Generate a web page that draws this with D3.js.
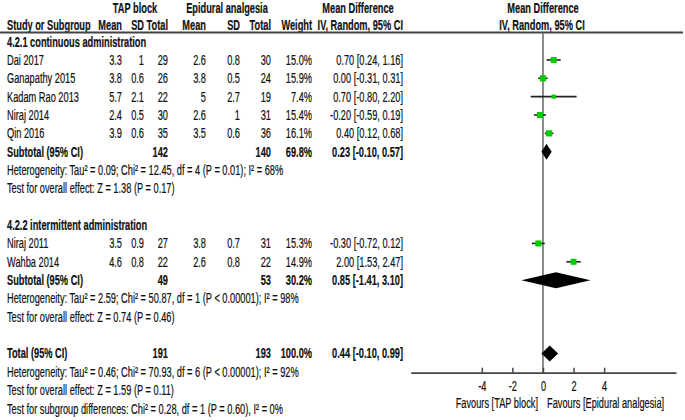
<!DOCTYPE html>
<html>
<head>
<meta charset="utf-8">
<script src="https://cdn.jsdelivr.net/npm/d3@7"></script>
<style>
  body { margin: 0; background: #fff; }
  svg text { font-family: "Liberation Sans", Arial, sans-serif; font-size: 14px; fill: #111; stroke: #111; stroke-width: 0.2px; }
</style>
</head>
<body>
<svg id="forest" width="685" height="420"></svg>
<script>
// ---- data ----
const subgroups = ["4.2.1 continuous administration", "4.2.2 intermittent administration"];
const studies   = ["Dai 2017", "Ganapathy 2015", "Kadam Rao 2013", "Niraj 2014", "Qin 2016", "Niraj 2011", "Wahba 2014"];
const groupOf   = [0, 0, 0, 0, 0, 1, 1];
const tapMean   = [3.3, 3.8, 5.7, 2.4, 3.9, 3.5, 4.6];
const tapSD     = [1, 0.6, 2.1, 0.5, 0.6, 0.9, 0.8];
const tapN      = [29, 26, 22, 30, 35, 27, 22];
const epiMean   = [2.6, 3.8, 5, 2.6, 3.5, 3.8, 2.6];
const epiSD     = [0.8, 0.5, 2.7, 1, 0.6, 0.7, 0.8];
const epiN      = [30, 24, 19, 31, 36, 31, 22];
const weight    = [15.0, 15.9, 7.4, 15.4, 16.1, 15.3, 14.9];
const md        = [0.70, 0.00, 0.70, -0.20, 0.40, -0.30, 2.00];
const mdLo      = [0.24, -0.31, -0.80, -0.59, 0.12, -0.72, 1.53];
const mdHi      = [1.16, 0.31, 2.20, 0.19, 0.68, 0.12, 2.47];

const subTapN   = [142, 49];
const subEpiN   = [140, 53];
const subWeight = [69.8, 30.2];
const subMd     = [0.23, 0.85];
const subLo     = [-0.10, -1.41];
const subHi     = [0.57, 3.10];
const subHet    = ["Heterogeneity: Tau² = 0.09; Chi² = 12.45, df = 4 (P = 0.01); I² = 68%",
                   "Heterogeneity: Tau² = 2.59; Chi² = 50.87, df = 1 (P < 0.00001); I² = 98%"];
const subTest   = ["Test for overall effect: Z = 1.38 (P = 0.17)",
                   "Test for overall effect: Z = 0.74 (P = 0.46)"];

const totTapN = 191, totEpiN = 193, totWeight = 100.0;
const totMd = 0.44, totLo = -0.10, totHi = 0.99;
const totHet  = "Heterogeneity: Tau² = 0.46; Chi² = 70.93, df = 6 (P < 0.00001); I² = 92%";
const totTest = "Test for overall effect: Z = 1.59 (P = 0.11)";
const subDiff = "Test for subgroup differences: Chi² = 0.28, df = 1 (P = 0.60), I² = 0%";

const axisTicks = [-4, -2, 0, 2, 4];
const favours = ["Favours [TAP block]", "Favours [Epidural analgesia]"];

// ---- layout ----
const SX = 0.66;               // horizontal squeeze of the narrow font
const rowY = i => 41.6 + 18.35 * i;
const col = { study: 7, tMean: 122, tSD: 144, tN: 168, eMean: 206, eSD: 240, eN: 271, w: 312, ci: 403 };

const svg = d3.select("#forest");
const x = d3.scaleLinear().domain([-8.65, 8.7]).range([410.7, 676]);
const size = d3.scaleSqrt().domain([0, 16.1]).range([0, 6.2]);

function label(x0, y0, s, anchor, bold) {
  svg.append("text")
    .attr("transform", "translate(" + x0 + "," + y0 + ") scale(" + SX + ",1)")
    .attr("dy", "0.35em")
    .attr("text-anchor", anchor || "start")
    .attr("font-weight", bold ? "bold" : "normal")
    .text(s);
}
const fmtCI = (m, l, h) => m.toFixed(2) + " [" + l.toFixed(2) + ", " + h.toFixed(2) + "]";

// headers
label(135, 8, "TAP block", "middle", true);
label(227, 8, "Epidural analgesia", "middle", true);
label(358, 8, "Mean Difference", "middle", true);
label(543, 8, "Mean Difference", "middle", true);
label(col.study, 25, "Study or Subgroup", "start", true);
[["Mean", col.tMean], ["SD", col.tSD], ["Total", col.tN], ["Mean", col.eMean], ["SD", col.eSD], ["Total", col.eN], ["Weight", col.w], ["IV, Random, 95% CI", col.ci]]
  .forEach(h => label(h[1], 25, h[0], "end", true));
label(542, 25, "IV, Random, 95% CI", "middle", true);

svg.append("line").attr("x1", 0).attr("x2", 683).attr("y1", 32.5).attr("y2", 32.5)
  .attr("stroke", "#444").attr("stroke-width", 1.8);

// zero line
svg.append("line").attr("x1", x(0)).attr("x2", x(0)).attr("y1", 32.5).attr("y2", 372.7)
  .attr("stroke", "#666").attr("stroke-width", 1.5);

function diamond(yc, m, l, h) {
  const hh = 8;
  svg.append("path")
    .attr("d", "M" + x(l) + "," + yc + "L" + x(m) + "," + (yc - hh) + "L" + x(h) + "," + yc + "L" + x(m) + "," + (yc + hh) + "Z")
    .attr("fill", "#000");
}

let row = 0;
subgroups.forEach((sg, g) => {
  label(col.study, rowY(row), sg, "start", true);
  row++;
  studies.forEach((s, i) => {
    if (groupOf[i] !== g) return;
    const y = rowY(row);
    label(col.study, y, s);
    label(col.tMean, y, String(tapMean[i]), "end");
    label(col.tSD, y, String(tapSD[i]), "end");
    label(col.tN, y, String(tapN[i]), "end");
    label(col.eMean, y, String(epiMean[i]), "end");
    label(col.eSD, y, String(epiSD[i]), "end");
    label(col.eN, y, String(epiN[i]), "end");
    label(col.w, y, weight[i].toFixed(1) + "%", "end");
    label(col.ci, y, fmtCI(md[i], mdLo[i], mdHi[i]), "end");
    svg.append("line").attr("x1", x(mdLo[i])).attr("x2", x(mdHi[i])).attr("y1", y).attr("y2", y)
      .attr("stroke", "#222").attr("stroke-width", 1.6);
    const sz = size(weight[i]);
    svg.append("rect").attr("x", x(md[i]) - sz / 2).attr("y", y - sz / 2)
      .attr("width", sz).attr("height", sz).attr("fill", "#00cc00");
    row++;
  });
  const y = rowY(row);
  label(col.study, y, "Subtotal (95% CI)", "start", true);
  label(col.tN, y, String(subTapN[g]), "end", true);
  label(col.eN, y, String(subEpiN[g]), "end", true);
  label(col.w, y, subWeight[g].toFixed(1) + "%", "end", true);
  label(col.ci, y, fmtCI(subMd[g], subLo[g], subHi[g]), "end", true);
  diamond(y, subMd[g], subLo[g], subHi[g]);
  row++;
  label(col.study, rowY(row++), subHet[g]);
  label(col.study, rowY(row++), subTest[g]);
  row++;
});

const yt = rowY(row);
label(col.study, yt, "Total (95% CI)", "start", true);
label(col.tN, yt, String(totTapN), "end", true);
label(col.eN, yt, String(totEpiN), "end", true);
label(col.w, yt, totWeight.toFixed(1) + "%", "end", true);
label(col.ci, yt, fmtCI(totMd, totLo, totHi), "end", true);
diamond(yt, totMd, totLo, totHi);
row++;
label(col.study, rowY(row++), totHet);
label(col.study, rowY(row++), totTest);
label(col.study, rowY(row++), subDiff);

// axis
const ax = svg.append("g").attr("transform", "translate(0,372.7)")
  .call(d3.axisBottom(x).tickValues(axisTicks).tickSizeInner(-5).tickSizeOuter(0).tickPadding(8).tickFormat(d => String(d)));
ax.select(".domain").attr("stroke", "#444").attr("stroke-width", 1.8);
ax.selectAll(".tick line").attr("stroke", "#444").attr("stroke-width", 1.5);
ax.selectAll(".tick text").attr("font-size", 14).attr("fill", "#111")
  .attr("font-family", "Liberation Sans, Arial, sans-serif").attr("transform", "scale(" + SX + ",1)");

label(538, 403, favours[0], "end");
label(547, 403, favours[1], "start");
</script>
</body>
</html>
